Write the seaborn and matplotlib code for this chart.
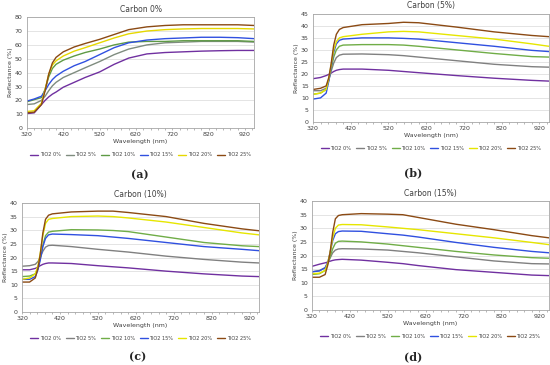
import numpy as np
import pandas as pd
import matplotlib
matplotlib.use("Agg")
import matplotlib.pyplot as plt
from matplotlib.ticker import MultipleLocator
import seaborn as sns

series = ["TiO2 0%", "TiO2 5%", "TiO2 10%", "TiO2 15%", "TiO2 20%", "TiO2 25%"]
colors = ["#7030A0", "#808080", "#70AD47", "#3050E0", "#E6E600", "#8B4A14"]
colors_a = ["#7030A0", "#7F8C7F", "#5E9A45", "#3050E0", "#E6D800", "#8B4A14"]

# Panel (a): Carbon 0%
wl_a = [320, 340, 360, 370, 380, 390, 400, 420, 450, 480, 520, 560, 600, 650, 700, 750, 800, 850, 900, 945]
a_0 = [10.5, 11, 17, 20, 22.5, 24.5, 26, 29.5, 33, 36.5, 40.5, 46, 50.5, 53.5, 54.5, 55, 55.5, 55.8, 56, 56]
a_5 = [17, 17.5, 20, 23, 27, 30.5, 33, 36.5, 40, 43.5, 48, 53, 57, 60, 61.5, 62, 62.5, 62.5, 62.5, 62]
a_10 = [19, 20.5, 22, 28, 37, 43, 46, 49, 52, 54.5, 57, 60, 62, 62.5, 62.5, 63, 63, 63, 63, 62.5]
a_15 = [19.5, 21, 23, 27, 31.5, 35, 37.5, 41, 45, 48, 53, 58, 61.5, 63.5, 64.5, 65, 65.5, 65.5, 65.2, 64.5]
a_20 = [12, 12.5, 18, 28, 39, 45.5, 48.5, 52, 55.5, 58, 61.5, 65, 68, 70, 71, 71.5, 71.8, 71.8, 71.8, 71.5]
a_25 = [11, 11.5, 17, 27, 39, 47, 51, 55, 58.5, 61, 64, 67.5, 71, 73, 74, 74.5, 74.5, 74.5, 74.5, 74]

wl = [320, 340, 355, 362, 368, 375, 382, 390, 400, 450, 520, 560, 600, 700, 800, 900, 945]
# Panel (b): Carbon 5%
b_0 = [18, 18.5, 19.3, 19.8, 20.3, 21, 21.5, 21.8, 22, 22, 21.5, 21, 20.5, 19.3, 18.2, 17.3, 17]
b_5 = [13, 13, 14, 17.5, 21, 24.5, 26.8, 27.8, 28.2, 28.3, 28, 27.6, 27, 25.5, 24, 23, 22.8]
b_10 = [11.5, 12, 13.5, 17.5, 22, 27, 30, 31.5, 32, 32.2, 32.2, 32, 31.5, 30, 28.5, 27.2, 27]
b_15 = [9.5, 10, 12, 17, 22.5, 29, 32.5, 34, 34.5, 35, 35, 34.8, 34.5, 33, 31.5, 29.8, 29.3]
b_20 = [11.5, 12, 13.5, 18, 23.5, 30, 33.5, 35, 35.5, 36.5, 37.5, 37.7, 37.5, 36, 34.5, 32.5, 31.5]
b_25 = [13.5, 14, 15, 18.5, 24, 32, 36.5, 38.5, 39.3, 40.5, 41, 41.5, 41.3, 39.5, 37.5, 36, 35.5]
# Panel (c): Carbon 10%
c_0 = [15.5, 15.5, 16, 16.5, 17, 17.5, 17.8, 18, 18, 17.8, 17, 16.6, 16.2, 15, 14, 13.2, 13]
c_5 = [16.8, 17, 17.5, 18.5, 20, 22.3, 23.8, 24.4, 24.5, 24, 23, 22.5, 22, 20.5, 19.3, 18.3, 18]
c_10 = [13, 13.2, 14, 16, 19.5, 24.5, 28, 29.3, 29.6, 30.2, 30.1, 29.9, 29.5, 27.5, 25.5, 24.3, 24]
c_15 = [12, 12, 13, 15.5, 19, 24, 27, 28.3, 28.6, 28.4, 28, 27.5, 27, 25.5, 24, 23, 22.5]
c_20 = [12, 12.5, 14, 17, 21.5, 28, 32.5, 34, 34.3, 35, 35.2, 35, 34.5, 33, 31, 29, 28.3]
c_25 = [11, 11, 12.5, 16, 21, 29, 34, 35.5, 36, 36.7, 37, 37, 36.5, 35, 32.5, 30.5, 29.8]
# Panel (d): Carbon 15%
d_0 = [16, 16.8, 17.3, 17.6, 17.9, 18.2, 18.4, 18.5, 18.6, 18.3, 17.5, 17, 16.3, 14.8, 13.8, 12.8, 12.6]
d_5 = [14, 14.5, 15.5, 17.3, 19, 21, 22, 22.4, 22.5, 22.4, 22, 21.5, 21, 19.5, 18, 17, 16.9]
d_10 = [13, 13.3, 14.5, 17, 19.5, 22.5, 24.5, 25.2, 25.3, 25, 24.2, 23.6, 23, 21.5, 20.2, 19.2, 19]
d_15 = [14, 14.3, 15.5, 17.5, 21, 25.5, 28, 28.8, 29, 28.9, 28, 27.5, 26.8, 24.8, 23, 21.5, 21]
d_20 = [13.3, 13.5, 14.5, 17.3, 21, 26.5, 30, 31.2, 31.4, 31.3, 30.5, 30, 29.5, 28, 26.5, 24.8, 24]
d_25 = [12, 12, 13, 16.5, 21, 28.5, 33.5, 34.7, 35, 35.4, 35.2, 35, 34, 31.5, 29.5, 27.3, 26.5]

panels = [
    ("Carbon 0%", wl_a, [a_0, a_5, a_10, a_15, a_20, a_25], 80, 10, colors_a, "(a)"),
    ("Carbon (5%)", wl, [b_0, b_5, b_10, b_15, b_20, b_25], 45, 5, colors, "(b)"),
    ("Carbon (10%)", wl, [c_0, c_5, c_10, c_15, c_20, c_25], 40, 5, colors, "(c)"),
    ("Carbon (15%)", wl, [d_0, d_5, d_10, d_15, d_20, d_25], 40, 5, colors, "(d)"),
]

sns.set_theme(style="white")
plt.rcParams['font.family'] = ['DejaVu Sans']

fig = plt.figure(figsize=(5.5, 3.65), dpi=100)
rects = [
    [0.049, 0.649, 0.413, 0.304],
    [0.569, 0.666, 0.429, 0.296],
    [0.040, 0.145, 0.431, 0.299],
    [0.567, 0.151, 0.431, 0.298],
]
label_pos = [(0.255, 0.52), (0.751, 0.527), (0.251, 0.022), (0.751, 0.022)]

for (title, x, ys, ymax, ystep, pal, lab), rect, lp in zip(panels, rects, label_pos):
    ax = fig.add_axes(rect)
    rows = []
    for name, yv in zip(series, ys):
        for xv, v in zip(x, yv):
            rows.append({"Wavelength": xv, "Reflectance": v, "Series": name})
    df = pd.DataFrame(rows)
    sns.lineplot(data=df, x="Wavelength", y="Reflectance", hue="Series",
                 hue_order=series, palette=pal, ax=ax, linewidth=1.0,
                 legend=True)
    ax.set_xlim(320, 945)
    ax.set_ylim(0, ymax)
    ax.xaxis.set_minor_locator(MultipleLocator(20))
    ax.yaxis.set_major_locator(MultipleLocator(ystep))
    ax.set_xticks(np.arange(320, 946, 100))
    ax.grid(axis='y', color='#D9D9D9', linewidth=0.5)
    ax.tick_params(axis='both', labelsize=4.5, length=1.5, width=0.4, pad=1.5, colors='#404040')
    ax.tick_params(axis='x', which='minor', length=1.2, width=0.4, bottom=True, color='#808080')
    ax.tick_params(axis='x', which='major', bottom=True, color='#808080')
    for s in ax.spines.values():
        s.set_color('#A6A6A6')
        s.set_linewidth(0.6)
    ax.set_title(title, fontsize=5.5, pad=4, color='#404040')
    ax.set_xlabel("Wavelength (nm)", fontsize=4.5, labelpad=1.5, color='#404040')
    ax.set_ylabel("Reflectance (%)", fontsize=4.5, labelpad=1.5, color='#404040')
    leg = ax.legend(loc='upper center', bbox_to_anchor=(0.5, -0.2), ncol=6,
                    frameon=False, fontsize=3.6, handlelength=1.6, columnspacing=1.0,
                    handletextpad=0.3, borderaxespad=0)
    for t in leg.get_texts():
        t.set_color('#404040')
    fig.text(lp[0], lp[1], lab, fontsize=8, fontweight='bold', family='DejaVu Serif',
             ha='center', va='center')

fig.savefig("out.png", dpi=100)
